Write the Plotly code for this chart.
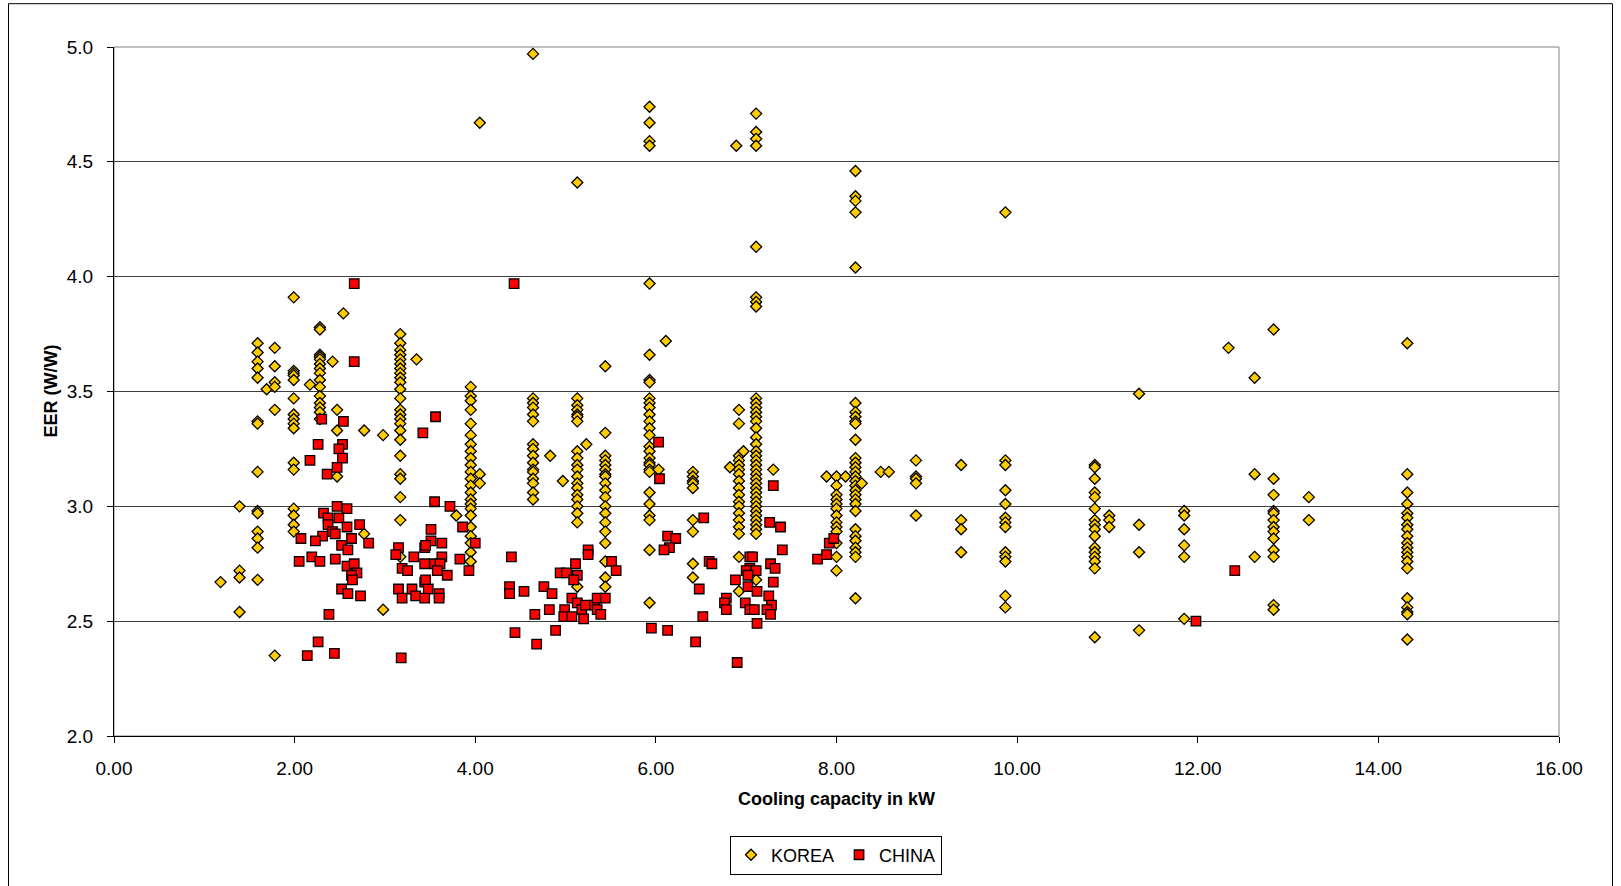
import plotly.graph_objects as go

# ---------------- DATA ----------------
# KOREA: capacity columns (kW) and EER values observed in each column
korea_capacity = [1.18, 1.39, 1.59, 1.69, 1.78, 1.99, 2.17, 2.28, 2.42, 2.47, 2.54, 2.77, 2.98,
                  3.17, 3.35, 3.79, 3.95, 4.05, 4.64, 4.83, 4.97, 5.13, 5.23, 5.44, 5.93, 6.03,
                  6.11, 6.41, 6.82, 6.89, 6.92, 6.97, 7.11, 7.30, 7.89, 8.00, 8.10, 8.21, 8.28,
                  8.49, 8.58, 8.88, 9.38, 9.87, 10.86, 11.02, 11.35, 11.85, 12.34, 12.63, 12.84,
                  13.23, 14.32]
korea_eer = [
    [2.67],
    [3.00, 2.72, 2.69, 2.54],
    [3.71, 3.67, 3.63, 3.60, 3.56, 3.37, 3.36, 3.15, 2.98, 2.97, 2.89, 2.86, 2.82, 2.68],
    [3.51],
    [3.69, 3.61, 3.54, 3.52, 3.42, 2.35],
    [3.91, 3.59, 3.58, 3.57, 3.55, 3.47, 3.40, 3.38, 3.36, 3.34, 3.19, 3.16, 2.99, 2.96, 2.92, 2.89],
    [3.53],
    [3.78, 3.77, 3.66, 3.65, 3.64, 3.62, 3.60, 3.58, 3.55, 3.52, 3.48, 3.45, 3.43, 3.41, 3.38],
    [3.63],
    [3.42, 3.33, 3.13],
    [3.84],
    [3.33, 2.88],
    [3.31, 2.55],
    [3.75, 3.71, 3.68, 3.66, 3.64, 3.62, 3.60, 3.58, 3.56, 3.54, 3.51, 3.47, 3.42, 3.40, 3.38,
     3.36, 3.33, 3.29, 3.22, 3.14, 3.12, 3.04, 2.94, 2.78],
    [3.64],
    [2.96],
    [3.52, 3.48, 3.46, 3.42, 3.36, 3.31, 3.27, 3.24, 3.21, 3.18, 3.15, 3.12, 3.09, 3.06, 3.03,
     3.01, 2.99, 2.96, 2.91, 2.87, 2.84, 2.80, 2.76],
    [4.67, 3.14, 3.10],
    [4.97, 3.47, 3.45, 3.43, 3.40, 3.37, 3.27, 3.25, 3.22, 3.19, 3.16, 3.15, 3.12, 3.10, 3.06, 3.03],
    [3.22],
    [3.11],
    [4.41, 3.47, 3.44, 3.42, 3.40, 3.39, 3.37, 3.24, 3.21, 3.18, 3.16, 3.13, 3.10, 3.08, 3.05,
     3.03, 3.00, 2.97, 2.93, 2.65],
    [3.27],
    [3.61, 3.32, 3.22, 3.20, 3.18, 3.16, 3.14, 3.13, 3.10, 3.07, 3.04, 3.00, 2.97, 2.93, 2.89,
     2.84, 2.76, 2.69, 2.65],
    [4.74, 4.67, 4.59, 4.57, 3.97, 3.66, 3.55, 3.54, 3.47, 3.45, 3.43, 3.40, 3.37, 3.34, 3.31,
     3.26, 3.24, 3.21, 3.19, 3.18, 3.16, 3.15, 3.06, 3.01, 2.96, 2.94, 2.81, 2.58],
    [3.16],
    [3.72],
    [3.15, 3.13, 3.11, 3.10, 3.08, 2.94, 2.89, 2.75, 2.69],
    [3.17],
    [4.57],
    [3.42, 3.36, 3.22, 3.20, 3.18, 3.16, 3.14, 3.11, 3.08, 3.05, 3.02, 3.00, 2.97, 2.94, 2.91,
     2.88, 2.78, 2.63],
    [3.24],
    [4.71, 4.63, 4.60, 4.57, 4.13, 3.91, 3.89, 3.87, 3.47, 3.45, 3.43, 3.41, 3.39, 3.37, 3.34,
     3.30, 3.27, 3.24, 3.22, 3.20, 3.18, 3.16, 3.14, 3.12, 3.10, 3.08, 3.06, 3.04, 3.02, 3.00,
     2.98, 2.96, 2.94, 2.92, 2.90, 2.88, 2.68],
    [3.16],
    [3.13],
    [3.13, 3.09, 3.05, 3.03, 3.01, 2.99, 2.96, 2.93, 2.91, 2.89, 2.84, 2.78, 2.72],
    [3.13],
    [4.46, 4.35, 4.33, 4.28, 4.04, 3.45, 3.41, 3.39, 3.37, 3.36, 3.29, 3.21, 3.19, 3.17, 3.15,
     3.13, 3.11, 3.09, 3.07, 3.05, 3.03, 3.01, 2.98, 2.90, 2.87, 2.85, 2.82, 2.80, 2.78, 2.60],
    [3.10],
    [3.15],
    [3.15],
    [3.20, 3.13, 3.12, 3.10, 2.96],
    [3.18, 2.94, 2.90, 2.80],
    [4.28, 3.20, 3.18, 3.07, 3.01, 2.95, 2.93, 2.91, 2.80, 2.78, 2.76, 2.61, 2.56],
    [3.18, 3.17, 3.12, 3.06, 3.04, 2.99, 2.94, 2.92, 2.90, 2.87, 2.82, 2.80, 2.78, 2.76, 2.73, 2.43],
    [2.96, 2.94, 2.91],
    [3.49, 2.92, 2.80, 2.46],
    [2.98, 2.96, 2.90, 2.83, 2.78, 2.51],
    [3.69],
    [3.56, 3.14, 2.78],
    [3.77, 3.12, 3.05, 2.98, 2.97, 2.94, 2.91, 2.89, 2.86, 2.81, 2.78, 2.57, 2.55],
    [3.04, 2.94],
    [3.71, 3.14, 3.06, 3.01, 2.97, 2.95, 2.92, 2.90, 2.87, 2.84, 2.82, 2.80, 2.78, 2.76, 2.73,
     2.60, 2.56, 2.54, 2.53, 2.42],
]

# CHINA: individual points
china_kw = [2.66, 4.43, 2.66, 2.30, 2.54, 2.26, 2.53, 2.49, 2.53, 2.17, 2.47, 2.36, 3.42, 3.56,
            2.47, 2.58, 2.32, 2.37, 2.49, 2.37, 2.58, 2.72, 2.42, 2.31, 2.07, 2.23, 2.45, 2.52,
            2.63, 2.82, 2.59, 2.05, 2.19, 2.28, 2.45, 2.58, 2.66, 2.69, 2.63, 2.64, 2.52, 2.59,
            2.73, 2.38, 2.26, 2.14, 2.44, 3.18,
            3.15, 3.12, 3.19, 3.25, 3.32, 3.15, 3.19, 3.30, 3.44, 3.44, 3.44, 3.34,
            3.55, 3.72, 3.86, 3.51, 3.51, 3.63, 3.45, 4.00, 3.63, 3.55, 3.61, 3.83, 3.69, 3.58,
            3.93, 3.45, 3.48, 3.60, 3.44, 3.60,
            4.40, 4.38, 4.38, 4.54, 4.76, 4.85, 4.66, 4.82, 4.94, 5.01, 4.99, 4.98, 4.89, 4.44, 4.68,
            6.03, 6.04, 6.53, 6.13, 6.22, 6.15, 6.09, 5.25, 5.25, 5.11, 5.13, 5.09, 5.51, 5.56,
            6.59, 6.62, 6.48, 6.52, 6.44, 5.95, 6.13, 5.07, 5.13, 5.18, 5.20, 5.22, 5.32, 5.35,
            5.35, 5.39, 5.44, 5.07,
            7.30, 7.26, 7.38, 7.40, 7.04, 7.07, 7.27, 7.32, 7.04, 7.00, 7.11, 7.02, 6.88, 7.30,
            7.02, 7.12, 7.25, 6.78, 6.76, 6.99, 7.28, 6.78, 7.04, 7.09, 7.23, 7.27, 7.12, 6.90,
            7.79, 7.89, 7.92, 7.97,
            11.98, 12.41]
china_eer = [3.97, 3.97, 3.63, 3.38, 3.37, 3.27, 3.27, 3.25, 3.21, 3.20, 3.17, 3.14, 3.32, 3.39,
             3.00, 2.99, 2.97, 2.95, 2.95, 2.92, 2.91, 2.92, 2.89, 2.87, 2.86, 2.85, 2.88, 2.83,
             2.86, 2.84, 2.81, 2.76, 2.78, 2.76, 2.77, 2.74, 2.75, 2.71, 2.70, 2.68, 2.64, 2.62,
             2.61, 2.53, 2.41, 2.35, 2.36, 2.34,
             2.82, 2.79, 2.73, 2.72, 2.78, 2.64, 2.60, 2.64, 2.82, 2.75, 2.67, 2.61,
             3.02, 3.00, 2.91, 2.90, 2.85, 2.84, 2.83, 2.84, 2.78, 2.75, 2.75, 2.77, 2.70, 2.72,
             2.72, 2.68, 2.64, 2.62, 2.60, 2.60,
             2.78, 2.65, 2.62, 2.63, 2.65, 2.62, 2.53, 2.55, 2.71, 2.71, 2.55, 2.52, 2.46, 2.45, 2.40,
             3.28, 3.12, 2.95, 2.87, 2.86, 2.82, 2.81, 2.81, 2.79, 2.75, 2.70, 2.68, 2.76, 2.72,
             2.76, 2.75, 2.64, 2.52, 2.41, 2.47, 2.46, 2.60, 2.58, 2.55, 2.51, 2.57, 2.57, 2.60,
             2.55, 2.53, 2.60, 2.52,
             3.09, 2.93, 2.91, 2.81, 2.78, 2.78, 2.75, 2.73, 2.73, 2.72, 2.72, 2.70, 2.68, 2.67,
             2.65, 2.63, 2.61, 2.60, 2.58, 2.58, 2.57, 2.55, 2.55, 2.55, 2.55, 2.53, 2.49, 2.32,
             2.77, 2.79, 2.84, 2.86,
             2.50, 2.72]

x_ticks = [0, 2, 4, 6, 8, 10, 12, 14, 16]
y_ticks = [2.0, 2.5, 3.0, 3.5, 4.0, 4.5, 5.0]
series_names = ["KOREA", "CHINA"]

# ---------------- FIGURE ----------------
W, H = 1621, 886
L, R, T, B = 114, 62, 47, 147
PX0, PX1, PY0, PY1 = L, W - R, T, H - B


def paper_x(px):
    return (px - PX0) / (PX1 - PX0)


def paper_y(py):
    return (PY1 - py) / (PY1 - PY0)


kx, ky = [], []
for cap, vals in zip(korea_capacity, korea_eer):
    for v in vals:
        kx.append(cap)
        ky.append(v)

FONT = "Liberation Sans, Arial, sans-serif"

fig = go.Figure()
fig.add_trace(go.Scatter(
    x=kx, y=ky, mode="markers", name=series_names[0],
    marker=dict(symbol="diamond", size=8.5, color="#FFCC00",
                line=dict(color="#000000", width=1.3)),
))
fig.add_trace(go.Scatter(
    x=china_kw, y=china_eer, mode="markers", name=series_names[1],
    marker=dict(symbol="square", size=9.5, color="#FF0000",
                line=dict(color="#000000", width=1.3)),
))

fig.update_layout(
    width=W, height=H,
    margin=dict(l=L, r=R, t=T, b=B, pad=0),
    paper_bgcolor="white", plot_bgcolor="white",
    font=dict(family=FONT, size=18, color="black"),
    showlegend=True,
    legend=dict(orientation="h", x=paper_x(836), xanchor="center",
                y=paper_y(839), yanchor="top",
                bordercolor="black", borderwidth=1, bgcolor="white",
                font=dict(size=18), itemwidth=30, tracegroupgap=0),
    xaxis=dict(range=[0, 16], tickvals=x_ticks, tickformat=".2f",
               showgrid=False, zeroline=False,
               showline=True, linecolor="black", linewidth=1,
               ticks="outside", ticklen=6, tickcolor="black",
               tickfont=dict(size=19), ticklabelstandoff=9),
    yaxis=dict(range=[2, 5], tickvals=y_ticks, tickformat=".1f",
               showgrid=True, gridcolor="#404040", gridwidth=1, zeroline=False,
               showline=True, linecolor="black", linewidth=1,
               ticks="outside", ticklen=6, tickcolor="black",
               tickfont=dict(size=19), ticklabelstandoff=10),
    shapes=[
        # plot area border (gray)
        dict(type="rect", xref="paper", yref="paper", x0=0, x1=1, y0=0, y1=1,
             line=dict(color="#808080", width=1), layer="below"),
        # outer chart border
        dict(type="path", xref="paper", yref="paper",
             path=f"M {paper_x(8.5)},{paper_y(900)} L {paper_x(8.5)},{paper_y(3.5)} "
                  f"L {paper_x(1612.5)},{paper_y(3.5)} L {paper_x(1612.5)},{paper_y(900)}",
             line=dict(color="black", width=1)),
    ],
    annotations=[
        dict(text="<b>Cooling capacity in kW</b>", xref="paper", yref="paper",
             x=paper_x(836), y=paper_y(802), xanchor="center", yanchor="middle",
             showarrow=False, font=dict(size=18)),
        dict(text="<b>EER (W/W)</b>", xref="paper", yref="paper",
             x=paper_x(50), y=paper_y(393), xanchor="center", yanchor="middle",
             showarrow=False, textangle=-90, font=dict(size=18)),
    ],
)

fig.write_html("out.html")
